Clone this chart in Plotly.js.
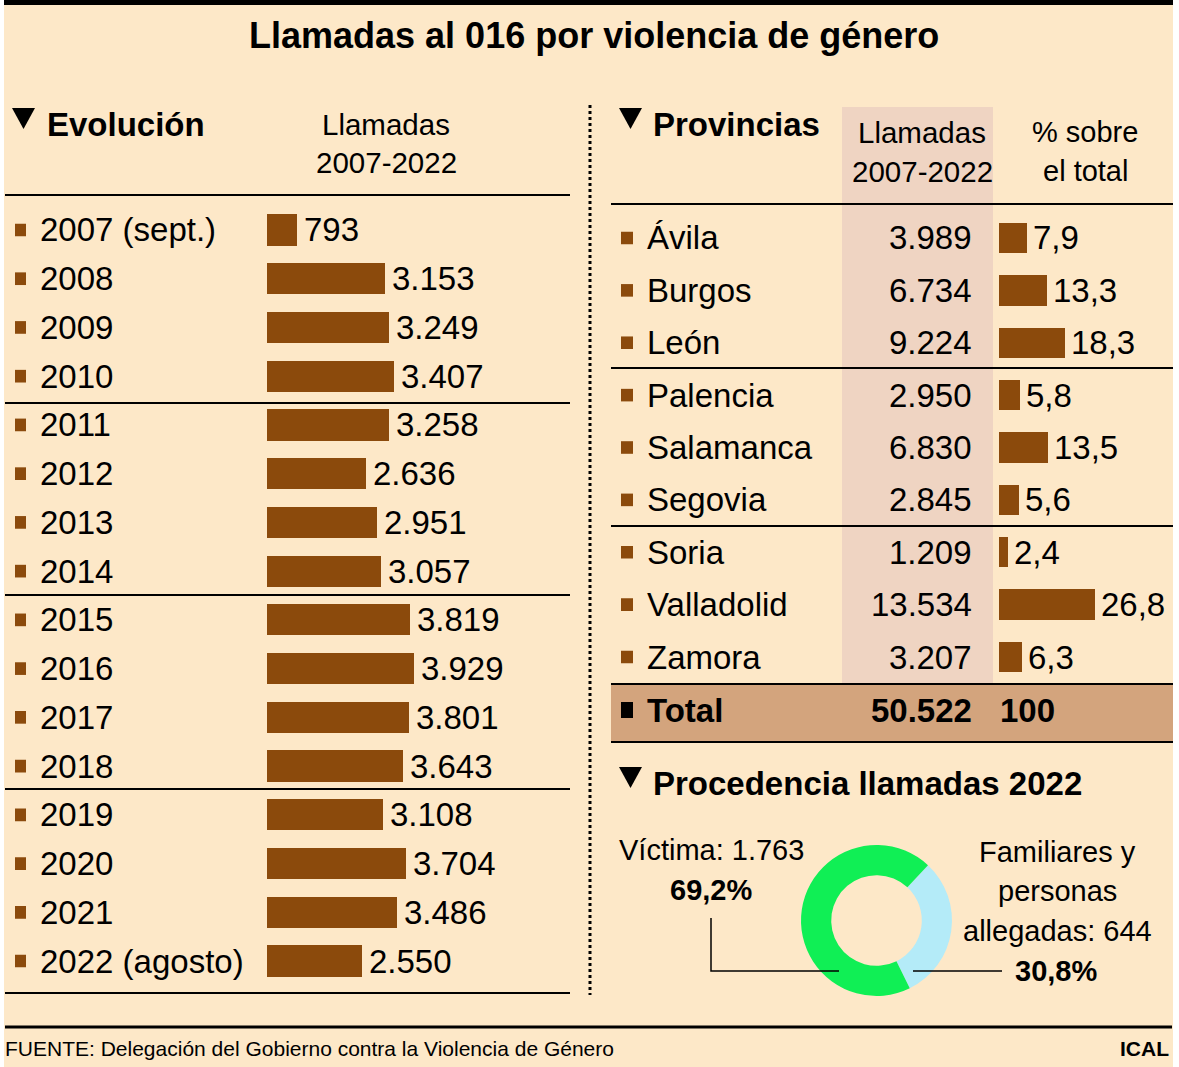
<!DOCTYPE html>
<html><head><meta charset="utf-8">
<script src="https://cdn.plot.ly/plotly-3.0.1.min.js"></script>
<style>html,body{margin:0;padding:0;background:#fff;}#chart{width:1179px;height:1067px;}</style>
</head><body><div id="chart"></div>
<script>
// ---- data ----
const years = ['2007 (sept.)','2008','2009','2010','2011','2012','2013','2014','2015','2016','2017','2018','2019','2020','2021','2022 (agosto)'];
const yearCalls = [793,3153,3249,3407,3258,2636,2951,3057,3819,3929,3801,3643,3108,3704,3486,2550];
const provinces = ['Ávila','Burgos','León','Palencia','Salamanca','Segovia','Soria','Valladolid','Zamora'];
const provinceCalls = [3989,6734,9224,2950,6830,2845,1209,13534,3207];
const provincePct = [7.9,13.3,18.3,5.8,13.5,5.6,2.4,26.8,6.3];
const totalCalls = 50522;
const totalPct = 100;
const originLabels = ['Familiares y personas allegadas','Víctima'];
const originCalls = [644,1763];
const originPct = [30.8,69.2];

// ---- helpers ----
const W = 1179, H = 1067;
const X = p => p / W;
const Y = p => 1 - p / H;
const F = "'Liberation Sans',Arial,sans-serif";
const BROWN = '#8B4A0C';
const BG = '#FDE8C8';
const fmtInt = v => v.toString().replace(/\B(?=(\d{3})+(?!\d))/g, '.');
const fmtDec = v => v.toFixed(1).replace('.', ',');
const yIdx = years.map((_, i) => i);
const pIdx = provinces.map((_, i) => i);

const traces = [
  {type:'bar', orientation:'h', x:yearCalls, y:yIdx, xaxis:'x', yaxis:'y',
   marker:{color:BROWN}, width:0.64, hoverinfo:'skip', showlegend:false},
  {type:'bar', orientation:'h', x:provincePct, y:pIdx, xaxis:'x2', yaxis:'y2',
   marker:{color:BROWN}, width:0.58, hoverinfo:'skip', showlegend:false},
  {type:'pie', values:originPct, labels:originLabels, sort:false, direction:'clockwise',
   rotation:43, hole:0.6, textinfo:'none', hoverinfo:'skip', showlegend:false,
   marker:{colors:['#B4EBF8','#10EF55'], line:{width:0}},
   domain:{x:[X(800),X(953)], y:[Y(996),Y(845)]}}
];

const shapes = [];
const ann = [];
// background and frame
shapes.push({type:'rect', xref:'paper', yref:'paper', x0:X(4), x1:X(1173), y0:0, y1:1, fillcolor:BG, line:{width:0}, layer:'below'});
shapes.push({type:'rect', xref:'paper', yref:'paper', x0:X(4), x1:X(1173), y0:Y(5), y1:1, fillcolor:'#000', line:{width:0}, layer:'below'});
// pink column
shapes.push({type:'rect', xref:'paper', yref:'paper', x0:X(842), x1:X(993), y0:Y(685), y1:Y(107), fillcolor:'#EFD4C2', line:{width:0}, layer:'below'});
// total row
shapes.push({type:'rect', xref:'paper', yref:'paper', x0:X(611), x1:X(1173), y0:Y(742), y1:Y(684), fillcolor:'#D3A47D', line:{width:0}, layer:'below'});
// horizontal rules
const hl = (x0,x1,y,w) => shapes.push({type:'line', xref:'paper', yref:'paper', x0:X(x0), x1:X(x1), y0:Y(y), y1:Y(y), line:{color:'#000', width:w}});
[195,403,595,789,993].forEach(y => hl(5,570,y,2));
[204,368,526,684,742].forEach(y => hl(611,1173,y,2));
hl(5,1172,1027,3);
// dotted separator
shapes.push({type:'line', xref:'paper', yref:'paper', x0:X(590), x1:X(590), y0:Y(105), y1:Y(995), line:{color:'#000', width:3, dash:'dot'}});
// leader lines
shapes.push({type:'path', xref:'paper', yref:'paper', path:`M ${X(711)} ${Y(918)} L ${X(711)} ${Y(971)} L ${X(839)} ${Y(971)}`, line:{color:'#000', width:1.5}});
hl(913,1002,971,1.5);
// triangles
const tri = (x, y) => shapes.push({type:'path', xref:'paper', yref:'paper', path:`M ${X(x)} ${Y(y)} L ${X(x+23)} ${Y(y)} L ${X(x+11.5)} ${Y(y+21)} Z`, fillcolor:'#000', line:{width:0}});
tri(12,108); tri(619,108); tri(619,767);

// bullets
yIdx.forEach(i => shapes.push({type:'rect', xref:'paper', yref:'y', x0:X(15), x1:X(26), y0:i-0.13, y1:i+0.13, fillcolor:BROWN, line:{width:0}}));
pIdx.forEach(i => shapes.push({type:'rect', xref:'paper', yref:'y2', x0:X(621), x1:X(633), y0:i-0.12, y1:i+0.12, fillcolor:BROWN, line:{width:0}}));
shapes.push({type:'rect', xref:'paper', yref:'paper', x0:X(621), x1:X(633), y0:Y(718), y1:Y(702), fillcolor:'#000', line:{width:0}});

// text helper
const T = (text, x, y, size, opts={}) => ann.push(Object.assign({text, xref:'paper', yref:'paper', x:X(x), y:Y(y), xanchor:'left', yanchor:'middle', showarrow:false, font:{family:F, size, color:'#000'}}, opts));

T('<b>Llamadas al 016 por violencia de género</b>', 594, 36, 36, {xanchor:'center'});
// section headers
T('<b>Evolución</b>', 45, 125, 33);
T('Llamadas', 386, 125, 29.5, {xanchor:'center'});
T('2007-2022', 386, 162, 29.5, {xanchor:'center'});
T('<b>Provincias</b>', 651, 125, 33);
T('Llamadas', 922, 132, 29.5, {xanchor:'center'});
T('2007-2022', 922, 171, 29.5, {xanchor:'center'});
T('% sobre', 1085, 132, 29, {xanchor:'center'});
T('el total', 1085, 171, 29, {xanchor:'center'});
T('<b>Procedencia llamadas 2022</b>', 651, 783, 33);

// left rows
years.forEach((c,i) => {
  ann.push({text:c, xref:'paper', yref:'y', x:X(38), y:i, xanchor:'left', yanchor:'middle', showarrow:false, font:{family:F, size:33, color:'#000'}});
  ann.push({text:fmtInt(yearCalls[i]), xref:'x', yref:'y', x:yearCalls[i], y:i, xanchor:'left', yanchor:'middle', xshift:5, showarrow:false, font:{family:F, size:33, color:'#000'}});
});
// province rows
provinces.forEach((c,i) => {
  ann.push({text:c, xref:'paper', yref:'y2', x:X(645), y:i, xanchor:'left', yanchor:'middle', showarrow:false, font:{family:F, size:33, color:'#000'}});
  ann.push({text:fmtInt(provinceCalls[i]), xref:'paper', yref:'y2', x:X(974), y:i, xanchor:'right', yanchor:'middle', showarrow:false, font:{family:F, size:33, color:'#000'}});
  ann.push({text:fmtDec(provincePct[i]), xref:'x2', yref:'y2', x:provincePct[i], y:i, xanchor:'left', yanchor:'middle', xshift:4, showarrow:false, font:{family:F, size:33, color:'#000'}});
});
T('<b>Total</b>', 645, 710, 33);
T('<b>' + fmtInt(totalCalls) + '</b>', 974, 710, 33, {xanchor:'right'});
T('<b>' + totalPct + '</b>', 998, 710, 33);

// donut labels
T('Víctima: ' + fmtInt(originCalls[1]), 711, 850, 29, {xanchor:'center'});
T('<b>' + fmtDec(originPct[1]) + '%</b>', 711, 890, 29, {xanchor:'center'});
T('Familiares y', 1057, 852, 29, {xanchor:'center'});
T('personas', 1057, 891, 29, {xanchor:'center'});
T('allegadas: ' + fmtInt(originCalls[0]), 1057, 931, 29, {xanchor:'center'});
T('<b>' + fmtDec(originPct[0]) + '%</b>', 1099, 971, 29, {xanchor:'right'});

// footer
T('FUENTE: Delegación del Gobierno contra la Violencia de Género', 3, 1048, 21);
T('<b>ICAL</b>', 1171, 1048, 21, {xanchor:'right'});

const layout = {
  width:W, height:H, margin:{l:0,r:0,t:0,b:0}, paper_bgcolor:'#fff', plot_bgcolor:'rgba(0,0,0,0)',
  showlegend:false, bargap:0,
  xaxis:{domain:[X(267),X(567)], range:[0,8019], visible:false, fixedrange:true},
  yaxis:{domain:[Y(985.4),Y(205.6)], range:[15.5,-0.5], visible:false, fixedrange:true},
  xaxis2:{domain:[X(999),X(1149)], range:[0,41.67], visible:false, anchor:'y2', fixedrange:true},
  yaxis2:{domain:[Y(683.2),Y(211.8)], range:[8.5,-0.5], visible:false, anchor:'x2', fixedrange:true},
  shapes, annotations:ann
};
Plotly.newPlot('chart', traces, layout, {displayModeBar:false, staticPlot:true});
</script></body></html>
